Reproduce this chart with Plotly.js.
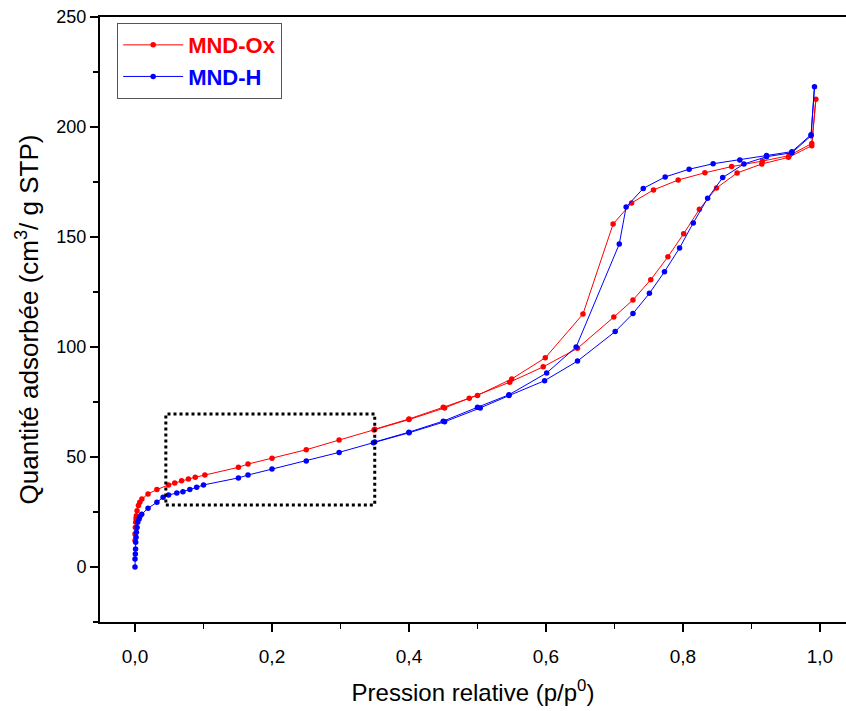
<!DOCTYPE html>
<html>
<head>
<meta charset="utf-8">
<script src="https://cdn.plot.ly/plotly-3.0.1.min.js"></script>
<style>html,body{margin:0;padding:0;background:#fff;}#chart{width:846px;height:711px;}</style>
</head>
<body>
<div id="chart"></div>
<script>
// MND-Ox : adsorption then desorption (p/p0, cm3/g STP)
const oxP = [0.0, 0.0, 0.0005, 0.001, 0.0015, 0.002, 0.003, 0.005, 0.007, 0.01, 0.019, 0.032, 0.049, 0.058, 0.068, 0.078, 0.088, 0.102, 0.151, 0.165, 0.2, 0.25, 0.298, 0.349, 0.4, 0.452, 0.488, 0.547, 0.596, 0.646, 0.699, 0.727, 0.753, 0.778, 0.801, 0.824, 0.849, 0.879, 0.915, 0.954, 0.988, 0.994,
             0.988, 0.955, 0.916, 0.871, 0.832, 0.793, 0.757, 0.725, 0.698, 0.654, 0.599, 0.55, 0.50, 0.45, 0.40, 0.35];
const oxV = [12, 15, 18, 20.3, 22, 23.3, 25.6, 27.9, 29.4, 30.9, 33.2, 35.2, 37.3, 38.2, 39.2, 40, 40.8, 41.8, 45.3, 46.8, 49.4, 53.3, 57.7, 62.3, 67, 72.3, 76.7, 84, 91, 99.4, 113.6, 121.4, 130.6, 141, 151.5, 162.6, 172.3, 179.1, 183.2, 186.2, 191.5, 212.6,
             192.5, 187, 184.5, 182, 179.2, 175.9, 171.4, 165.5, 155.9, 115, 95.1, 85.5, 78, 72.6, 67.3, 62.6];

// MND-H : adsorption then desorption
const hP = [0.0, 0.0, 0.0005, 0.0008, 0.001, 0.0015, 0.002, 0.003, 0.004, 0.006, 0.007, 0.0098, 0.019, 0.032, 0.041, 0.049, 0.061, 0.07, 0.08, 0.09, 0.1, 0.151, 0.165, 0.2, 0.25, 0.298, 0.348, 0.4, 0.452, 0.504, 0.546, 0.598, 0.646, 0.701, 0.727, 0.751, 0.773, 0.795, 0.815, 0.836, 0.858, 0.889, 0.922, 0.959, 0.987, 0.992,
            0.987, 0.959, 0.922, 0.883, 0.844, 0.809, 0.774, 0.742, 0.717, 0.707, 0.644, 0.601, 0.546, 0.50, 0.45, 0.40, 0.35];
const hV = [0, 3.6, 5.9, 8.2, 11.2, 13.5, 15.8, 18, 20.3, 21.8, 22.8, 24, 26.7, 29.4, 31.7, 32.7, 33.6, 34.2, 35.2, 36.2, 37.3, 40.5, 41.8, 44.5, 48.2, 52.1, 56.5, 61, 66, 72.3, 77.9, 84.7, 93.6, 107, 115.2, 124.4, 134.2, 145, 156.4, 167.6, 177, 183.2, 186.5, 188.3, 196, 218.3,
            196.5, 188.8, 187, 185, 183.3, 180.8, 177.3, 172.1, 163.6, 146.8, 100, 88.2, 78.3, 72.6, 66.3, 61.3, 56.8];

const seriesNames = ['MND-Ox', 'MND-H'];
const xTicks = [0, 0.2, 0.4, 0.6, 0.8, 1.0];
const yTicks = [0, 50, 100, 150, 200, 250];

const RED = '#ff0000', BLUE = '#0000ff';
function tr(x, y, name, color) {
  return {
    x: x, y: y, type: 'scatter', mode: 'lines+markers',
    name: '<b><span style="color:' + color + '">' + name + '</span></b>',
    line: {color: color, width: 1},
    marker: {color: color, size: 5.5, symbol: 'circle'}
  };
}

const data = [tr(oxP, oxV, seriesNames[0], RED), tr(hP, hV, seriesNames[1], BLUE)];

const layout = {
  width: 846, height: 711,
  margin: {l: 100, r: 0, t: 17, b: 89},
  paper_bgcolor: '#fff', plot_bgcolor: '#fff',
  separators: ', ',
  font: {family: 'Arial, "Liberation Sans", sans-serif', color: '#000'},
  showlegend: true,
  legend: {
    x: 0.023, y: 0.99, xanchor: 'left', yanchor: 'top',
    bordercolor: '#555', borderwidth: 1, bgcolor: '#fff',
    font: {size: 22, family: 'Arial, "Liberation Sans", sans-serif'},
    itemwidth: 60, tracegroupgap: 0
  },
  xaxis: {
    range: [-0.0511, 1.038],
    tickvals: xTicks, tickformat: '.1f',
    ticks: 'outside', ticklen: 8, tickwidth: 1.5, tickcolor: '#000',
    minor: {dtick: 0.1, tick0: 0, ticks: 'outside', ticklen: 5, tickwidth: 1.5, tickcolor: '#000', showgrid: false},
    showline: true, linecolor: '#000', linewidth: 2, mirror: true,
    showgrid: false, zeroline: false,
    tickfont: {size: 19},
    ticklabelstandoff: 8,
    title: {text: 'Pression relative (p/p<sup>0</sup>)', font: {size: 24}, standoff: 18}
  },
  yaxis: {
    range: [-25, 250],
    tickvals: yTicks,
    ticks: 'outside', ticklen: 8, tickwidth: 1.5, tickcolor: '#000',
    minor: {dtick: 25, tick0: 0, ticks: 'outside', ticklen: 5, tickwidth: 1.5, tickcolor: '#000', showgrid: false},
    showline: true, linecolor: '#000', linewidth: 2,
    showgrid: false, zeroline: false,
    tickfont: {size: 18},
    title: {text: 'Quantité adsorbée (cm<sup>3</sup>/ g STP)', font: {size: 26}, standoff: 10}
  },
  shapes: [{
    type: 'rect', xref: 'x', yref: 'y',
    x0: 0.045, x1: 0.35, y0: 28.2, y1: 69.5,
    line: {color: '#000', width: 3, dash: 'dot'}
  }]
};

Plotly.newPlot('chart', data, layout, {displayModeBar: false, staticPlot: true});
</script>
</body>
</html>
